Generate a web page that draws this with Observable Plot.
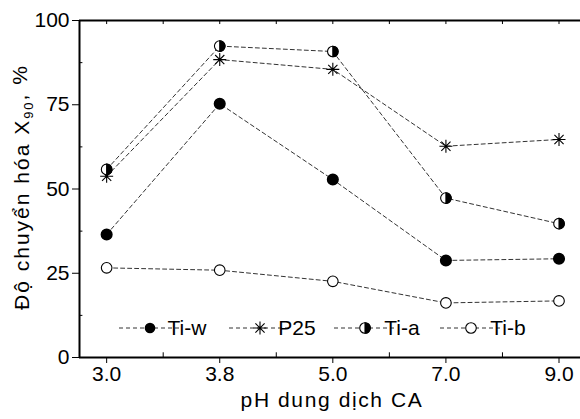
<!DOCTYPE html>
<html>
<head>
<meta charset="utf-8">
<script src="https://cdn.jsdelivr.net/npm/d3@7"></script>
<script src="https://cdn.jsdelivr.net/npm/@observablehq/plot@0.6"></script>
<style>
  html, body { margin: 0; padding: 0; background: #fff; }
  #chart { position: relative; width: 580px; height: 419px; overflow: hidden; }
  svg text { font-family: "Liberation Sans", Arial, sans-serif; }
</style>
</head>
<body>
<div id="chart"></div>
<script>
const phLabels = ["3.0", "3.8", "5.0", "7.0", "9.0"];
const seriesNames = ["Ti-w", "P25", "Ti-a", "Ti-b"];
const tiW = [36.5, 75.3, 52.8, 28.8, 29.3];
const p25 = [53.8, 88.4, 85.5, 62.7, 64.7];
const tiA = [55.8, 92.4, 90.8, 47.3, 39.7];
const tiB = [26.6, 25.9, 22.6, 16.2, 16.8];
const yTicks = [0, 25, 50, 75, 100];
const yMinor = [12.5, 37.5, 62.5, 87.5];
const xMinor = [0.5, 1.5, 2.5, 3.5];
const xTitle = "pH dung dịch CA";
const yTitleMain = "Độ chuyển hóa X";
const yTitleSub = "90";
const yTitleEnd = ", %";

const FONT = '"Liberation Sans", Arial, sans-serif';
const FS = 21;
const xLo = -0.24, xHi = 4.19;

const rows = (vals) => vals.map((v, i) => ({i, v}));

const halfSymbol = {
  draw(ctx, size) {
    const r = Math.sqrt(size / Math.PI);
    ctx.moveTo(0, -r);
    ctx.arc(0, 0, r, -Math.PI / 2, Math.PI / 2);
    ctx.closePath();
  }
};
const starSymbol = {
  draw(ctx, size) {
    const r = Math.sqrt(size / Math.PI);
    const d = r * Math.SQRT1_2;
    ctx.moveTo(0, -r); ctx.lineTo(0, r);
    ctx.moveTo(-r, 0); ctx.lineTo(r, 0);
    ctx.moveTo(-d, -d); ctx.lineTo(d, d);
    ctx.moveTo(-d, d); ctx.lineTo(d, -d);
  }
};

const lineOpts = {x: "i", y: "v", stroke: "#333", strokeWidth: 1, strokeDasharray: "4,3"};

const plot = Plot.plot({
  width: 580,
  height: 419,
  marginLeft: 79,
  marginRight: 0,
  marginTop: 20,
  marginBottom: 62,
  style: {fontFamily: FONT, fontSize: FS + "px", color: "#000", background: "#fff"},
  x: {domain: [xLo, xHi], axis: null},
  y: {domain: [0, 100], axis: null},
  marks: [
    Plot.line(rows(tiB), lineOpts),
    Plot.line(rows(tiW), lineOpts),
    Plot.line(rows(p25), lineOpts),
    Plot.line(rows(tiA), lineOpts),
    Plot.dot(rows(tiB), {x: "i", y: "v", r: 5.3, fill: "#fff", stroke: "#000", strokeWidth: 1.1}),
    Plot.dot(rows(tiW), {x: "i", y: "v", r: 5.3, fill: "#000", stroke: "#000"}),
    Plot.dot(rows(p25), {x: "i", y: "v", r: 6.5, symbol: starSymbol, fill: "none", stroke: "#000", strokeWidth: 1.1}),
    Plot.dot(rows(tiA), {x: "i", y: "v", r: 5.3, fill: "#fff", stroke: "#000", strokeWidth: 1.1}),
    Plot.dot(rows(tiA), {x: "i", y: "v", r: 5.3, symbol: halfSymbol, fill: "#000", stroke: "#000", strokeWidth: 1.1}),
    Plot.ruleY([0], {x1: xLo, x2: xHi, stroke: "#000", strokeWidth: 2}),
    Plot.ruleY([100], {x1: xLo, x2: xHi, stroke: "#000", strokeWidth: 2}),
    Plot.ruleX([xLo], {y1: 0, y2: 100, stroke: "#000", strokeWidth: 2}),
    Plot.axisX([0, 1, 2, 3, 4], {
      tickFormat: (d) => phLabels[d], tickSize: 6, tickPadding: 3,
      fontSize: FS, anchor: "bottom", label: null
    }),
    Plot.axisY(yTicks, {
      tickSize: 7, tickPadding: 3, fontSize: FS, anchor: "left", label: null
    }),
    Plot.ruleX(xMinor, {y1: 0, y2: 1.4, stroke: "#000", strokeWidth: 1}),
    Plot.ruleX(xMinor.concat([0, 1, 2, 3, 4]), {y1: 98.8, y2: 100, stroke: "#000", strokeWidth: 1}),
    Plot.ruleY(yMinor, {x1: xLo, x2: xLo + 0.03, stroke: "#000", strokeWidth: 1})
  ]
});

document.getElementById("chart").appendChild(plot);

const svg = d3.select(plot);

// Axis titles
svg.append("text")
  .attr("x", 332).attr("y", 400).attr("dy", "0.35em")
  .attr("text-anchor", "middle").attr("font-size", FS).attr("letter-spacing", "1.6px")
  .attr("fill", "#000")
  .text(xTitle);
const yt = svg.append("text")
  .attr("transform", "translate(22,187) rotate(-90)")
  .attr("text-anchor", "middle").attr("dy", "0.35em").attr("letter-spacing", "2px")
  .attr("font-size", FS).attr("fill", "#000");
yt.append("tspan").text(yTitleMain);
yt.append("tspan").attr("font-size", 13).attr("dy", "0.3em").text(yTitleSub);
yt.append("tspan").attr("dy", "-0.3em").text(yTitleEnd);

// Legend inside the plot area
const legendY = 328;
const kinds = ["filled", "star", "half", "open"];
const starts = [119, 229, 334, 440];
const lg = svg.append("g").attr("class", "legend");
seriesNames.forEach((name, k) => {
  const kind = kinds[k];
  const g = lg.append("g").attr("transform", `translate(${starts[k]},${legendY})`);
  g.append("line").attr("x1", 0).attr("x2", 62).attr("y1", 0).attr("y2", 0)
    .attr("stroke", "#333").attr("stroke-width", 1).attr("stroke-dasharray", "4,3");
  const cx = 31;
  if (kind === "filled") {
    g.append("circle").attr("cx", cx).attr("r", 5.3).attr("fill", "#000");
  } else if (kind === "open") {
    g.append("circle").attr("cx", cx).attr("r", 5.3).attr("fill", "#fff").attr("stroke", "#000").attr("stroke-width", 1.1);
  } else if (kind === "half") {
    g.append("circle").attr("cx", cx).attr("r", 5.3).attr("fill", "#fff").attr("stroke", "#000").attr("stroke-width", 1.1);
    const p = d3.path(); halfSymbol.draw(p, 5.3 * 5.3 * Math.PI);
    g.append("path").attr("transform", `translate(${cx},0)`).attr("d", p.toString()).attr("fill", "#000").attr("stroke", "#000").attr("stroke-width", 1.1);
  } else {
    const p = d3.path(); starSymbol.draw(p, 6.5 * 6.5 * Math.PI);
    g.append("path").attr("transform", `translate(${cx},0)`).attr("d", p.toString()).attr("fill", "none").attr("stroke", "#000").attr("stroke-width", 1.1);
  }
  g.append("text").attr("x", 68).attr("y", 0).attr("dy", "0.35em")
    .attr("font-size", FS).attr("fill", "#000").text(name);
});
</script>
</body>
</html>
